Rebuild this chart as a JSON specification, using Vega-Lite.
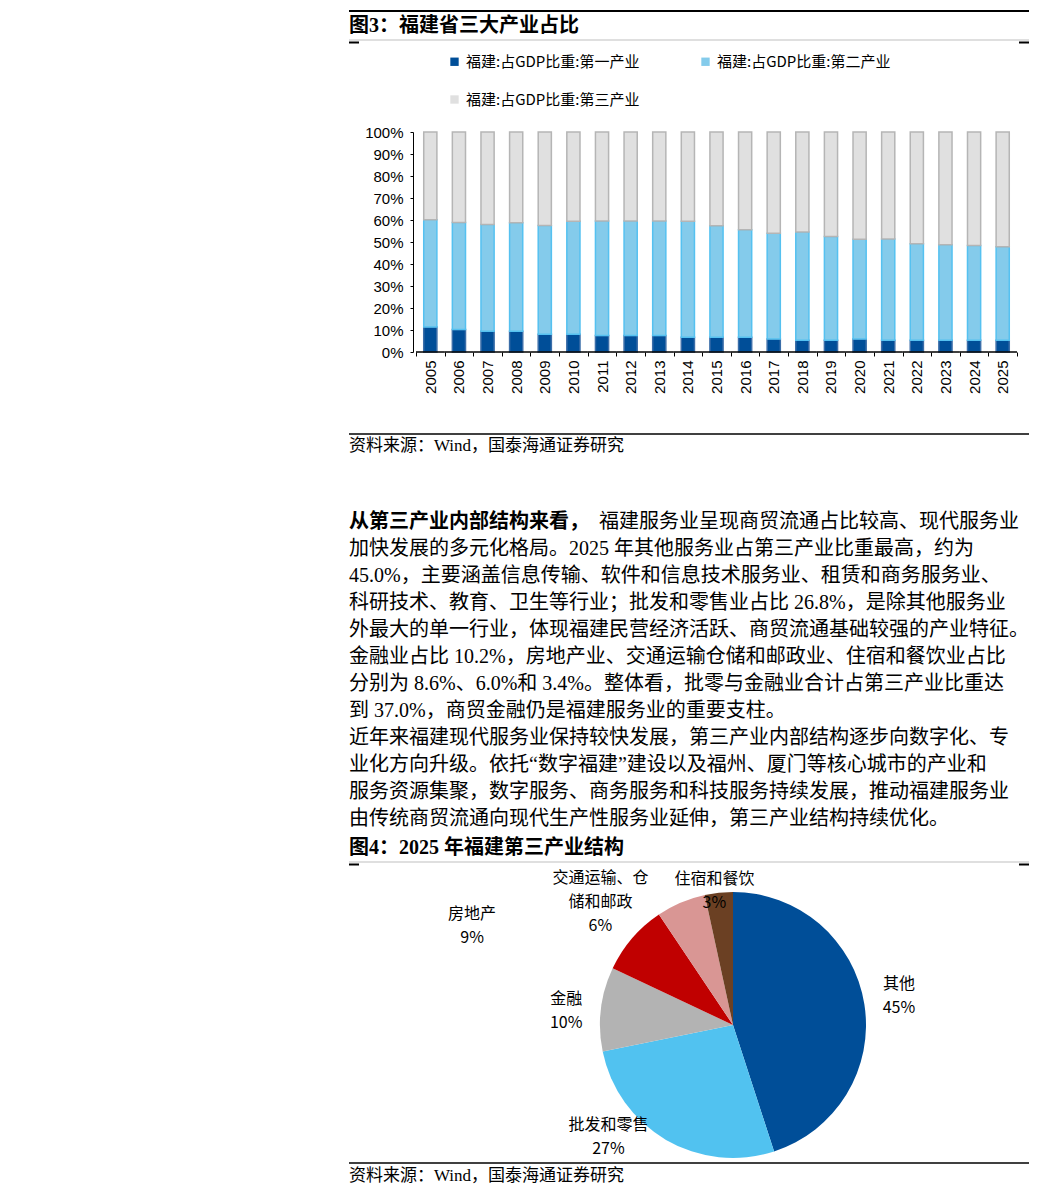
{
  "$schema": "https://vega.github.io/schema/vega-lite/v6.json",
  "background": "white",
  "padding": {"left": 342, "top": 10, "right": 0, "bottom": 0},
  "spacing": 0,
  "bounds": "flush",
  "resolve": {"scale": {"color": "independent", "stroke": "independent"}, "legend": {"color": "independent", "stroke": "independent"}},
  "config": {"view": {"stroke": null}, "font": "Noto Sans CJK SC", "axisY": {"labelOverlap": false}},
  "vconcat": [
    {
      "width": 680, "height": 29,
      "data": {"values": [{"t": "图3：福建省三大产业占比"}]},
      "layer": [
        {"mark": {"type": "rule", "color": "#000000", "strokeWidth": 2}, "encoding": {"x": {"value": 0}, "x2": {"value": 680}, "y": {"value": 0}}},
        {"mark": {"type": "rule", "color": "#BFBFBF", "strokeWidth": 1}, "encoding": {"x": {"value": 0}, "x2": {"value": 680}, "y": {"value": 29}}},
        {"mark": {"type": "rule", "color": "#000000", "strokeWidth": 2}, "encoding": {"x": {"value": 0}, "x2": {"value": 10}, "y": {"value": 31.5}}},
        {"mark": {"type": "rule", "color": "#000000", "strokeWidth": 2}, "encoding": {"x": {"value": 670}, "x2": {"value": 680}, "y": {"value": 31.5}}},
        {"mark": {"type": "text", "align": "left", "baseline": "middle", "font": "Liberation Serif, Noto Sans CJK SC", "fontSize": 20, "fontWeight": "bold", "color": "#000000"}, "encoding": {"x": {"value": 0}, "text": {"field": "t"}}}
      ]
    },
    {"width": 680, "height": 92, "data": {"values": []}, "mark": "text"},
    {
      "width": 680, "height": 220,
      "data": {"values": [
        {"year": "2005", "s": "福建:占GDP比重:第一产业", "v": 11.4}, {"year": "2005", "s": "福建:占GDP比重:第二产业", "v": 48.7}, {"year": "2005", "s": "福建:占GDP比重:第三产业", "v": 39.9},
        {"year": "2006", "s": "福建:占GDP比重:第一产业", "v": 10.2}, {"year": "2006", "s": "福建:占GDP比重:第二产业", "v": 48.7}, {"year": "2006", "s": "福建:占GDP比重:第三产业", "v": 41.1},
        {"year": "2007", "s": "福建:占GDP比重:第一产业", "v": 9.4}, {"year": "2007", "s": "福建:占GDP比重:第二产业", "v": 48.6}, {"year": "2007", "s": "福建:占GDP比重:第三产业", "v": 42.0},
        {"year": "2008", "s": "福建:占GDP比重:第一产业", "v": 9.4}, {"year": "2008", "s": "福建:占GDP比重:第二产业", "v": 49.4}, {"year": "2008", "s": "福建:占GDP比重:第三产业", "v": 41.2},
        {"year": "2009", "s": "福建:占GDP比重:第一产业", "v": 8.1}, {"year": "2009", "s": "福建:占GDP比重:第二产业", "v": 49.4}, {"year": "2009", "s": "福建:占GDP比重:第三产业", "v": 42.5},
        {"year": "2010", "s": "福建:占GDP比重:第一产业", "v": 8.1}, {"year": "2010", "s": "福建:占GDP比重:第二产业", "v": 51.3}, {"year": "2010", "s": "福建:占GDP比重:第三产业", "v": 40.6},
        {"year": "2011", "s": "福建:占GDP比重:第一产业", "v": 7.5}, {"year": "2011", "s": "福建:占GDP比重:第二产业", "v": 52.0}, {"year": "2011", "s": "福建:占GDP比重:第三产业", "v": 40.5},
        {"year": "2012", "s": "福建:占GDP比重:第一产业", "v": 7.5}, {"year": "2012", "s": "福建:占GDP比重:第二产业", "v": 52.0}, {"year": "2012", "s": "福建:占GDP比重:第三产业", "v": 40.5},
        {"year": "2013", "s": "福建:占GDP比重:第一产业", "v": 7.5}, {"year": "2013", "s": "福建:占GDP比重:第二产业", "v": 52.0}, {"year": "2013", "s": "福建:占GDP比重:第三产业", "v": 40.5},
        {"year": "2014", "s": "福建:占GDP比重:第一产业", "v": 6.7}, {"year": "2014", "s": "福建:占GDP比重:第二产业", "v": 52.7}, {"year": "2014", "s": "福建:占GDP比重:第三产业", "v": 40.6},
        {"year": "2015", "s": "福建:占GDP比重:第一产业", "v": 6.7}, {"year": "2015", "s": "福建:占GDP比重:第二产业", "v": 50.7}, {"year": "2015", "s": "福建:占GDP比重:第三产业", "v": 42.6},
        {"year": "2016", "s": "福建:占GDP比重:第一产业", "v": 6.7}, {"year": "2016", "s": "福建:占GDP比重:第二产业", "v": 48.9}, {"year": "2016", "s": "福建:占GDP比重:第三产业", "v": 44.4},
        {"year": "2017", "s": "福建:占GDP比重:第一产业", "v": 5.9}, {"year": "2017", "s": "福建:占GDP比重:第二产业", "v": 48.1}, {"year": "2017", "s": "福建:占GDP比重:第三产业", "v": 46.0},
        {"year": "2018", "s": "福建:占GDP比重:第一产业", "v": 5.3}, {"year": "2018", "s": "福建:占GDP比重:第二产业", "v": 49.2}, {"year": "2018", "s": "福建:占GDP比重:第三产业", "v": 45.5},
        {"year": "2019", "s": "福建:占GDP比重:第一产业", "v": 5.3}, {"year": "2019", "s": "福建:占GDP比重:第二产业", "v": 47.2}, {"year": "2019", "s": "福建:占GDP比重:第三产业", "v": 47.5},
        {"year": "2020", "s": "福建:占GDP比重:第一产业", "v": 5.9}, {"year": "2020", "s": "福建:占GDP比重:第二产业", "v": 45.4}, {"year": "2020", "s": "福建:占GDP比重:第三产业", "v": 48.7},
        {"year": "2021", "s": "福建:占GDP比重:第一产业", "v": 5.3}, {"year": "2021", "s": "福建:占GDP比重:第二产业", "v": 46.1}, {"year": "2021", "s": "福建:占GDP比重:第三产业", "v": 48.6},
        {"year": "2022", "s": "福建:占GDP比重:第一产业", "v": 5.3}, {"year": "2022", "s": "福建:占GDP比重:第二产业", "v": 43.9}, {"year": "2022", "s": "福建:占GDP比重:第三产业", "v": 50.8},
        {"year": "2023", "s": "福建:占GDP比重:第一产业", "v": 5.3}, {"year": "2023", "s": "福建:占GDP比重:第二产业", "v": 43.4}, {"year": "2023", "s": "福建:占GDP比重:第三产业", "v": 51.3},
        {"year": "2024", "s": "福建:占GDP比重:第一产业", "v": 5.3}, {"year": "2024", "s": "福建:占GDP比重:第二产业", "v": 43.1}, {"year": "2024", "s": "福建:占GDP比重:第三产业", "v": 51.6},
        {"year": "2025", "s": "福建:占GDP比重:第一产业", "v": 5.3}, {"year": "2025", "s": "福建:占GDP比重:第二产业", "v": 42.5}, {"year": "2025", "s": "福建:占GDP比重:第三产业", "v": 52.2}
      ]},
      "transform": [{"calculate": "indexof(['福建:占GDP比重:第一产业','福建:占GDP比重:第二产业','福建:占GDP比重:第三产业'], datum.s)", "as": "k"}],
      "encoding": {
        "x": {"field": "year", "type": "ordinal", "scale": {"paddingInner": 0, "paddingOuter": 0, "rangeMin": 67, "rangeMax": 668},
              "axis": {"title": null, "domain": false, "labelAngle": 270, "labelAlign": "right", "labelBaseline": "middle", "labelFont": "Liberation Sans", "labelFontSize": 15, "labelColor": "#000000", "labelOverlap": false, "tickBand": "extent", "tickSize": 4, "tickColor": "#000000", "labelPadding": 4, "grid": false}}
      },
      "layer": [
        {
          "mark": {"type": "bar", "width": {"band": 0.46}, "strokeWidth": 1.5},
          "encoding": {
            "y": {"field": "v", "type": "quantitative", "stack": "zero", "scale": {"domain": [0, 100], "nice": false},
                  "axis": {"title": null, "values": [0, 10, 20, 30, 40, 50, 60, 70, 80, 90, 100], "labelExpr": "datum.value + '%'", "labelOverlap": false, "labelFont": "Liberation Sans", "labelFontSize": 15, "labelColor": "#000000", "tickSize": 3, "tickColor": "#000000", "domainColor": "#000000", "grid": false, "offset": -64, "labelPadding": 7}},
            "color": {"field": "s", "type": "nominal",
                      "scale": {"domain": ["福建:占GDP比重:第一产业", "福建:占GDP比重:第二产业", "福建:占GDP比重:第三产业"], "range": ["#004E98", "#84CBEB", "#E0E0E0"]},
                      "legend": {"title": null, "orient": "none", "legendX": 98, "legendY": -78, "direction": "horizontal", "columns": 2, "columnPadding": 58, "rowPadding": 22, "symbolType": "square", "symbolSize": 70, "symbolStrokeWidth": 0, "labelFont": "Noto Sans CJK SC", "labelFontSize": 15, "labelLimit": 400, "labelColor": "#000000", "labelOffset": 4}},
            "stroke": {"field": "s", "type": "nominal",
                       "scale": {"domain": ["福建:占GDP比重:第一产业", "福建:占GDP比重:第二产业", "福建:占GDP比重:第三产业"], "range": ["#3A6DA8", "#55C1F0", "#B5B5B5"]},
                       "legend": null},
            "order": {"field": "k"}
          }
        },
        {
          "transform": [{"filter": "datum.k === 0"}],
          "mark": {"type": "bar", "width": {"band": 1}, "fill": "transparent", "stroke": "#000000", "strokeWidth": 1},
          "encoding": {
            "y": {"datum": 0, "type": "quantitative",
                  "axis": {"title": null, "values": [0, 10, 20, 30, 40, 50, 60, 70, 80, 90, 100], "labelExpr": "datum.value + '%'", "labelOverlap": false, "labelFont": "Liberation Sans", "labelFontSize": 15, "labelColor": "#000000", "tickSize": 3, "tickColor": "#000000", "domainColor": "#000000", "grid": false, "offset": -64, "labelPadding": 7}},
            "y2": {"datum": 0}
          }
        }
      ]
    },
    {"width": 680, "height": 82, "data": {"values": []}, "mark": "text"},
    {
      "width": 680, "height": 24,
      "data": {"values": [{"t": "资料来源：Wind，国泰海通证券研究"}]},
      "layer": [
        {"mark": {"type": "rule", "color": "#000000", "strokeWidth": 1.5}, "encoding": {"x": {"value": 0}, "x2": {"value": 680}, "y": {"value": 0}}},
        {"mark": {"type": "text", "align": "left", "baseline": "middle", "font": "Liberation Serif, Noto Sans CJK SC", "fontSize": 17, "color": "#000000"}, "encoding": {"x": {"value": 0}, "text": {"field": "t"}}}
      ]
    },
    {"width": 680, "height": 50, "data": {"values": []}, "mark": "text"},
    {
      "width": 680, "height": 325,
      "data": {"values": [
        {"line": 1, "seg": "b", "t": "从第三产业内部结构来看，"},
        {"line": 1, "seg": "n", "t": "福建服务业呈现商贸流通占比较高、现代服务业"},
        {"line": 2, "seg": "n", "t": "加快发展的多元化格局。2025 年其他服务业占第三产业比重最高，约为"},
        {"line": 3, "seg": "n", "t": "45.0%，主要涵盖信息传输、软件和信息技术服务业、租赁和商务服务业、"},
        {"line": 4, "seg": "n", "t": "科研技术、教育、卫生等行业；批发和零售业占比 26.8%，是除其他服务业"},
        {"line": 5, "seg": "n", "t": "外最大的单一行业，体现福建民营经济活跃、商贸流通基础较强的产业特征。"},
        {"line": 6, "seg": "n", "t": "金融业占比 10.2%，房地产业、交通运输仓储和邮政业、住宿和餐饮业占比"},
        {"line": 7, "seg": "n", "t": "分别为 8.6%、6.0%和 3.4%。整体看，批零与金融业合计占第三产业比重达"},
        {"line": 8, "seg": "n", "t": "到 37.0%，商贸金融仍是福建服务业的重要支柱。"},
        {"line": 9, "seg": "n", "t": "近年来福建现代服务业保持较快发展，第三产业内部结构逐步向数字化、专"},
        {"line": 10, "seg": "n", "t": "业化方向升级。依托“数字福建”建设以及福州、厦门等核心城市的产业和"},
        {"line": 11, "seg": "n", "t": "服务资源集聚，数字服务、商务服务和科技服务持续发展，推动福建服务业"},
        {"line": 12, "seg": "n", "t": "由传统商贸流通向现代生产性服务业延伸，第三产业结构持续优化。"}
      ]},
      "encoding": {
        "y": {"field": "line", "type": "ordinal", "scale": {"type": "point", "domain": [1, 2, 3, 4, 5, 6, 7, 8, 9, 10, 11, 12], "padding": 0.5}, "axis": null},
        "x": {"value": 0},
        "text": {"field": "t"}
      },
      "layer": [
        {"transform": [{"filter": "datum.seg === 'b'"}], "mark": {"type": "text", "align": "left", "baseline": "middle", "font": "Liberation Serif, Noto Sans CJK SC", "fontSize": 20, "fontWeight": "bold", "color": "#000000"}},
        {"transform": [{"filter": "datum.seg === 'n' && datum.line > 1"}], "mark": {"type": "text", "align": "left", "baseline": "middle", "font": "Liberation Serif, Noto Sans CJK SC", "fontSize": 20, "color": "#000000"}},
        {"transform": [{"filter": "datum.seg === 'n' && datum.line === 1"}], "mark": {"type": "text", "align": "left", "baseline": "middle", "dx": 250, "font": "Liberation Serif, Noto Sans CJK SC", "fontSize": 20, "color": "#000000"}}
      ]
    },
    {
      "width": 680, "height": 29,
      "data": {"values": [{"t": "图4：2025 年福建第三产业结构"}]},
      "layer": [
        {"mark": {"type": "rule", "color": "#BFBFBF", "strokeWidth": 1}, "encoding": {"x": {"value": 0}, "x2": {"value": 680}, "y": {"value": 29}}},
        {"mark": {"type": "rule", "color": "#000000", "strokeWidth": 2}, "encoding": {"x": {"value": 0}, "x2": {"value": 10}, "y": {"value": 31.5}}},
        {"mark": {"type": "rule", "color": "#000000", "strokeWidth": 2}, "encoding": {"x": {"value": 670}, "x2": {"value": 680}, "y": {"value": 31.5}}},
        {"mark": {"type": "text", "align": "left", "baseline": "middle", "font": "Liberation Serif, Noto Sans CJK SC", "fontSize": 20, "fontWeight": "bold", "color": "#000000"}, "encoding": {"x": {"value": 0}, "text": {"field": "t"}}}
      ]
    },
    {
      "width": 768, "height": 326,
      "layer": [
        {
          "data": {"values": [
            {"name": "其他", "share": 45.0},
            {"name": "批发和零售", "share": 26.8},
            {"name": "金融", "share": 10.2},
            {"name": "房地产", "share": 8.6},
            {"name": "交通运输、仓储和邮政", "share": 6.0},
            {"name": "住宿和餐饮", "share": 3.4}
          ]},
          "transform": [
            {"calculate": "indexof(['其他','批发和零售','金融','房地产','交通运输、仓储和邮政','住宿和餐饮'], datum.name)", "as": "k"},
            {"calculate": "format(datum.share / 100, '.0%')", "as": "pct"},
            {"calculate": "[datum.name, datum.pct]", "as": "lbl"},
            {"calculate": "[slice(datum.name, 0, 6), slice(datum.name, 6), datum.pct]", "as": "lbl3"}
          ],
          "encoding": {
            "theta": {"field": "share", "type": "quantitative", "stack": true},
            "order": {"field": "k"}
          },
          "layer": [
            {
              "mark": {"type": "arc", "outerRadius": 133},
              "encoding": {
                "color": {"field": "name", "type": "nominal",
                          "scale": {"domain": ["其他", "批发和零售", "金融", "房地产", "交通运输、仓储和邮政", "住宿和餐饮"], "range": ["#004E98", "#51C2F0", "#B3B3B3", "#C00000", "#D99694", "#6B4023"]},
                          "legend": null}
              }
            },
            {
              "mark": {"type": "text", "radius": 168, "dy": -15, "align": "center", "baseline": "middle", "lineHeight": 24, "font": "Liberation Sans Narrow, Noto Sans CJK SC", "fontSize": 16, "color": "#000000"},
              "encoding": {"text": {"condition": {"test": "datum.name === '其他'", "field": "lbl"}, "value": ""}}
            },
            {
              "mark": {"type": "text", "radius": 168, "dy": -6, "align": "center", "baseline": "middle", "lineHeight": 24, "font": "Liberation Sans Narrow, Noto Sans CJK SC", "fontSize": 16, "color": "#000000"},
              "encoding": {"text": {"condition": {"test": "datum.name === '金融'", "field": "lbl"}, "value": ""}}
            },
            {
              "mark": {"type": "text", "radius": 137, "dx": -4, "dy": -10, "align": "center", "baseline": "middle", "lineHeight": 24, "font": "Liberation Sans Narrow, Noto Sans CJK SC", "fontSize": 16, "color": "#000000"},
              "encoding": {"text": {"condition": {"test": "datum.name === '住宿和餐饮'", "field": "lbl"}, "value": ""}}
            },
            {
              "mark": {"type": "text", "radius": 140, "dx": -54, "dy": -21, "align": "center", "baseline": "middle", "lineHeight": 24, "font": "Liberation Sans Narrow, Noto Sans CJK SC", "fontSize": 16, "color": "#000000"},
              "encoding": {"text": {"condition": {"test": "datum.name === '批发和零售'", "field": "lbl"}, "value": ""}}
            },
            {
              "mark": {"type": "text", "radius": 170, "dx": -132, "dy": 0, "align": "center", "baseline": "middle", "lineHeight": 24, "font": "Liberation Sans Narrow, Noto Sans CJK SC", "fontSize": 16, "color": "#000000"},
              "encoding": {"text": {"condition": {"test": "datum.name === '房地产'", "field": "lbl"}, "value": ""}}
            },
            {
              "mark": {"type": "text", "radius": 160, "dx": -70, "dy": 0, "align": "center", "baseline": "middle", "lineHeight": 24, "font": "Liberation Sans Narrow, Noto Sans CJK SC", "fontSize": 16, "color": "#000000"},
              "encoding": {"text": {"condition": {"test": "datum.name === '交通运输、仓储和邮政'", "field": "lbl3"}, "value": ""}}
            }
          ]
        },
        {
          "data": {"values": [{"t": "资料来源：Wind，国泰海通证券研究"}]},
          "layer": [
            {"mark": {"type": "rule", "color": "#000000", "strokeWidth": 1.5}, "encoding": {"x": {"value": 0}, "x2": {"value": 680}, "y": {"value": 301}}},
            {"mark": {"type": "text", "align": "left", "baseline": "middle", "font": "Liberation Serif, Noto Sans CJK SC", "fontSize": 17, "color": "#000000"}, "encoding": {"x": {"value": 0}, "y": {"value": 313.5}, "text": {"field": "t"}}}
          ]
        }
      ]
    }
  ]
}
